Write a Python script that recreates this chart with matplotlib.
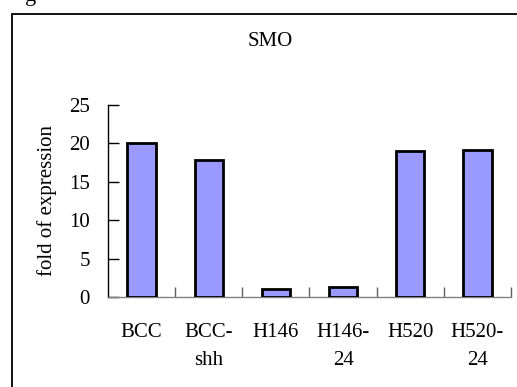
import matplotlib
matplotlib.use("Agg")
import matplotlib.pyplot as plt
from matplotlib.patches import Rectangle

categories = ["BCC", "BCC-\nshh", "H146", "H146-\n24", "H520", "H520-\n24"]
values = [20.0, 17.9, 1.0, 1.3, 19.0, 19.1]
yticks = [0, 5, 10, 15, 20, 25]
title = "SMO"
ylabel = "fold of expression"

plt.rcParams['font.family'] = ['Liberation Serif', 'DejaVu Serif']

W, H = 517, 387
fig = plt.figure(figsize=(W / 100, H / 100), dpi=100)

# outer frame
fig.patches.append(Rectangle((12 / W, -0.1), 1.2, (H - 14) / H + 0.1,
                             transform=fig.transFigure, fill=False,
                             edgecolor='black', linewidth=1.3))
fig.text(31 / W, (H - 1) / H, "g", fontsize=16, va='baseline', ha='center')

ax = fig.add_axes([108 / W, 90 / H, 403 / W, 192 / H])
x = list(range(len(categories)))
ax.bar(x, values, width=0.42, color='#9999FF', edgecolor='black', linewidth=2, zorder=3)
ax.set_xlim(-0.5, len(categories) - 0.5)
ax.set_ylim(0, 25)
ax.set_yticks(yticks)
ax.set_yticklabels([str(t) for t in yticks], fontsize=15)
ax.set_xticks(x)
ax.set_xticklabels(categories, fontsize=15, linespacing=1.6)
ax.set_xticks([i + 0.5 for i in x], minor=True)

for s in ['top', 'right']:
    ax.spines[s].set_visible(False)
ax.spines['left'].set_linewidth(1.0)
ax.spines['left'].set_color('black')
ax.spines['bottom'].set_linewidth(1.0)
ax.spines['bottom'].set_color('#808080')

ax.tick_params(axis='y', direction='in', length=8, width=1, pad=13, color='black')
ax.tick_params(axis='x', which='major', length=0, pad=19)
ax.tick_params(axis='x', which='minor', direction='in', length=7, width=1, color='#606060')

fig.text(270 / W, 1 - 41 / H, title, fontsize=15, ha='center', va='center')
fig.text(47 / W, 1 - 201 / H, ylabel, fontsize=15, ha='center', va='center', rotation=90)

fig.savefig("out.png", dpi=100)
